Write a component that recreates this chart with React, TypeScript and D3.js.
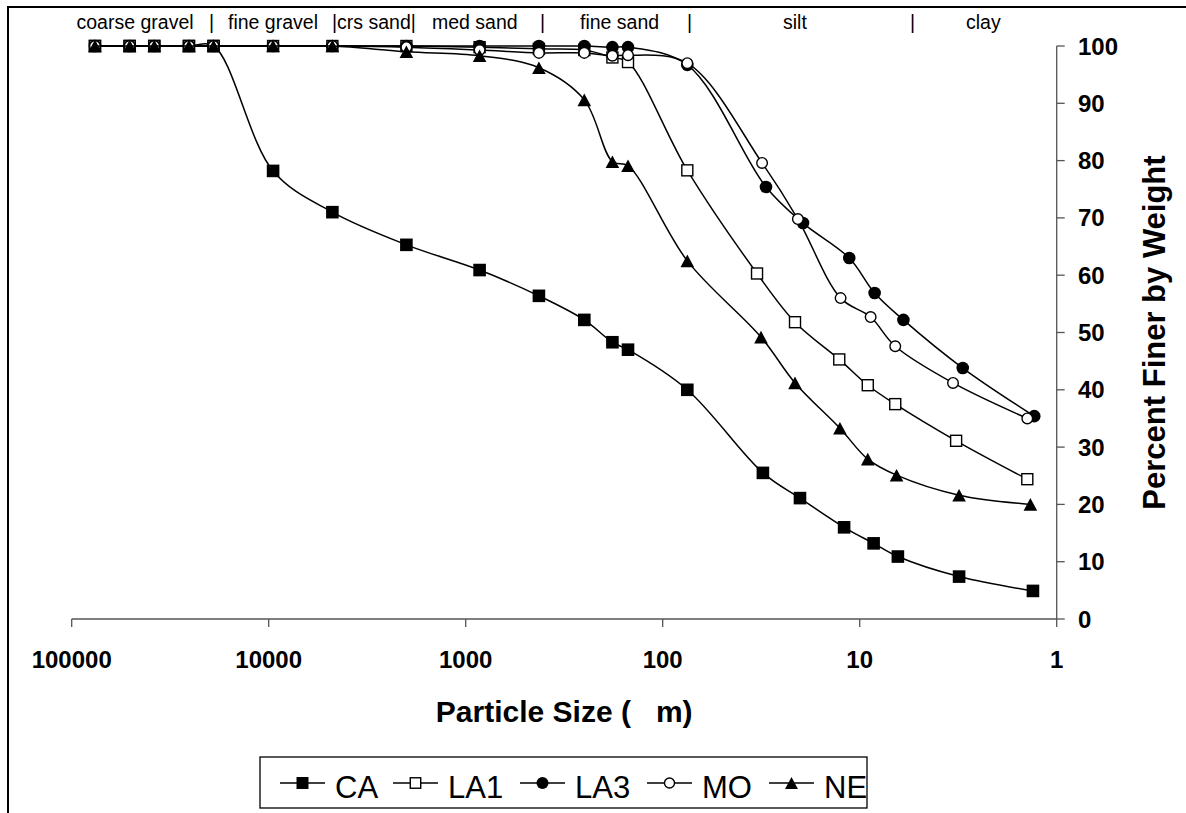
import React from "react";
import * as d3 from "d3";

const sieveSizes = [76200, 50800, 38100, 25400, 19050, 9500, 4750, 2000, 850, 425, 250, 180, 150, 75];

const caHydro = [31, 20.1, 12.0, 8.5, 6.4, 3.13, 1.32];
const la1Hydro = [33.2, 21.3, 12.7, 9.1, 6.6, 3.24, 1.41];
const la3Hydro = [29.9, 19.4, 11.3, 8.4, 6.0, 3.0, 1.3];
const moHydro = [31.3, 20.6, 12.5, 8.8, 6.6, 3.36, 1.41];
const neHydro = [31.7, 21.3, 12.6, 9.1, 6.5, 3.13, 1.36];

const caValues = [100, 100, 100, 100, 100, 78.2, 71.0, 65.3, 60.9, 56.4, 52.2, 48.3, 47.0, 40.0, 25.5, 21.1, 16.0, 13.2, 10.9, 7.4, 4.9];
const la1Values = [100, 100, 100, 100, 100, 100, 100, 100, 99.8, 99.5, 99.3, 98.0, 97.2, 78.3, 60.3, 51.8, 45.3, 40.8, 37.5, 31.1, 24.4];
const la3Values = [100, 100, 100, 100, 100, 100, 100, 100, 100, 100, 100, 99.8, 99.8, 96.7, 75.4, 69.1, 63.0, 56.9, 52.2, 43.8, 35.4];
const moValues = [100, 100, 100, 100, 100, 100, 100, 99.8, 99.3, 98.8, 98.8, 98.3, 98.4, 97.0, 79.6, 69.8, 56.0, 52.7, 47.6, 41.2, 35.0];
const neValues = [100, 100, 100, 100, 100, 100, 100, 99.0, 98.3, 96.2, 90.6, 79.8, 79.1, 62.5, 49.2, 41.2, 33.3, 27.9, 25.1, 21.6, 20.0];

const seriesNames = ["CA", "LA1", "LA3", "MO", "NE"];
const markerKinds = ["filledSquare", "openSquare", "filledCircle", "openCircle", "triangle"];

const xTicks = [100000, 10000, 1000, 100, 10, 1];
const yTicks = [0, 10, 20, 30, 40, 50, 60, 70, 80, 90, 100];

const zoneLabels = ["coarse gravel", "|", "fine gravel", "|crs sand|", "med sand", "|", "fine sand", "|", "silt", "|", "clay"];
const zoneLabelX = [76.5, 209, 228, 332, 432, 540, 580, 687, 783, 910, 966];

const xTitle = "Particle Size (   m)";
const yTitle = "Percent Finer by Weight";

const FONT = "Liberation Sans, Arial, Helvetica, sans-serif";

function Marker({ kind, x, y, s = 1 }: { kind: string; x: number; y: number; s?: number }) {
  if (kind === "filledSquare") {
    const h = 6.3 * s;
    return <rect x={x - h} y={y - h} width={2 * h} height={2 * h} fill="#000" />;
  }
  if (kind === "openSquare") {
    const h = 5.5 * s;
    return <rect x={x - h} y={y - h} width={2 * h} height={2 * h} fill="#fff" stroke="#000" strokeWidth={1.4} />;
  }
  if (kind === "filledCircle") {
    return <circle cx={x} cy={y} r={6.3 * s} fill="#000" />;
  }
  if (kind === "openCircle") {
    return <circle cx={x} cy={y} r={5.3 * s} fill="#fff" stroke="#000" strokeWidth={1.4} />;
  }
  const w = 6.8 * s;
  const h = 6.3 * s;
  return <path d={`M${x},${y - h}L${x + w},${y + h}L${x - w},${y + h}Z`} fill="#000" />;
}

export default function App() {
  const left = 71.7;
  const right = 1056.7;
  const top = 46;
  const bottom = 619;

  const x = d3.scaleLog().domain([100000, 1]).range([left, right]);
  const y = d3.scaleLinear().domain([0, 100]).range([bottom, top]);

  const hydros = [caHydro, la1Hydro, la3Hydro, moHydro, neHydro];
  const vals = [caValues, la1Values, la3Values, moValues, neValues];
  const series = seriesNames.map((name, i) => {
    const sizes = sieveSizes.concat(hydros[i]);
    return { name, kind: markerKinds[i], pts: sizes.map((d, j) => [d, vals[i][j]] as [number, number]) };
  });

  const line = d3
    .line<[number, number]>()
    .x((d) => x(d[0]))
    .y((d) => y(d[1]))
    .curve(d3.curveCatmullRom.alpha(0.5));

  const legendX = [280, 393, 520, 647, 769];
  const legendY = 783;

  return (
    <svg width={1186} height={813} style={{ position: "absolute", left: 0, top: 0, background: "#fff" }} fontFamily={FONT}>
      <rect x={0} y={0} width={1186} height={813} fill="#fff" />
      <rect x={8} y={7} width={1300} height={1000} fill="none" stroke="#000" strokeWidth={2} />

      {zoneLabels.map((t, i) => (
        <text key={i} x={zoneLabelX[i]} y={29} fontSize={19.5} fill="#000">
          {t}
        </text>
      ))}

      {/* x axis */}
      <line x1={left} x2={right} y1={bottom} y2={bottom} stroke="#555" strokeWidth={1.3} />
      {xTicks.map((t) => (
        <g key={t}>
          <line x1={x(t)} x2={x(t)} y1={bottom} y2={bottom + 8} stroke="#555" strokeWidth={1.3} />
          <text x={x(t)} y={668} textAnchor="middle" fontSize={24} fontWeight="bold">
            {t}
          </text>
        </g>
      ))}
      <text
        x={(left + right) / 2}
        y={722}
        textAnchor="middle"
        fontSize={30}
        fontWeight="bold"
        style={{ whiteSpace: "pre" }}
        xmlSpace="preserve"
      >
        {xTitle}
      </text>

      {/* y axis (right) */}
      <line x1={right} x2={right} y1={top} y2={bottom} stroke="#555" strokeWidth={1.3} />
      {yTicks.map((t) => (
        <g key={t}>
          <line x1={right} x2={right + 8} y1={y(t)} y2={y(t)} stroke="#555" strokeWidth={1.3} />
          <text x={1078} y={y(t) + 8.5} fontSize={24} fontWeight="bold">
            {t}
          </text>
        </g>
      ))}
      <text
        transform={`translate(1165,${(top + bottom) / 2}) rotate(-90)`}
        textAnchor="middle"
        fontSize={31}
        fontWeight="bold"
      >
        {yTitle}
      </text>

      {/* series */}
      {series.map((s) => (
        <g key={s.name}>
          <path d={line(s.pts) || ""} fill="none" stroke="#000" strokeWidth={1.5} />
          {s.pts.map((p, j) => (
            <Marker key={j} kind={s.kind} x={x(p[0])} y={y(p[1])} />
          ))}
        </g>
      ))}

      {/* legend */}
      <rect x={260} y={757} width={607} height={51} fill="#fff" stroke="#000" strokeWidth={1.3} />
      {series.map((s, i) => (
        <g key={s.name}>
          <line x1={legendX[i]} x2={legendX[i] + 45} y1={legendY} y2={legendY} stroke="#000" strokeWidth={1.5} />
          <Marker kind={s.kind} x={legendX[i] + 22.5} y={legendY} s={0.95} />
          <text x={legendX[i] + 55} y={798} fontSize={31}>
            {s.name}
          </text>
        </g>
      ))}
    </svg>
  );
}
